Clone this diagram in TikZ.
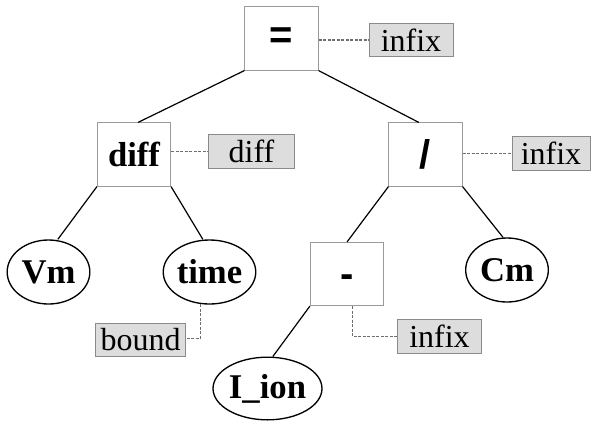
\documentclass[tikz,border=0pt]{standalone}
\usepackage{fontspec}
\setmainfont{Liberation Serif}
\setsansfont{Liberation Sans}
\usetikzlibrary{shapes.geometric}
\definecolor{boxline}{HTML}{9A9A9A}
\definecolor{tagfill}{HTML}{DDDDDD}
\definecolor{tagline}{HTML}{8A8A8A}
\definecolor{leader}{HTML}{6E6E6E}
\tikzset{
  opbox/.style={draw=boxline, line width=0.6pt, minimum width=55pt, minimum height=47.5pt, inner sep=0pt},
  opsym/.style={opbox, font=\sffamily\bfseries\fontsize{30}{30}\selectfont},
  opword/.style={opbox, font=\bfseries\fontsize{26}{26}\selectfont},
  leaf/.style={draw=black, ellipse, line width=1pt, minimum width=62pt, minimum height=48pt, inner sep=0pt, font=\bfseries\fontsize{26}{26}\selectfont},
  tag/.style={draw=tagline, fill=tagfill, line width=0.6pt, minimum height=25pt, inner sep=0pt, font=\fontsize{24}{24}\selectfont},
  edge/.style={draw=black, line width=0.9pt},
  lead/.style={draw=leader, line width=0.85pt, dash pattern=on 2.2pt off 1.2pt}
}
\begin{document}
\begin{tikzpicture}[x=0.75pt,y=-0.75pt]
\useasboundingbox (0,0) rectangle (591,422);

% operator boxes
\node[opsym]  (eq)    at (281.5,38.5) {=};
\node[opword] (diff)  at (134,154.5)  {diff};
\node[opsym]  (div)   at (425.5,154.5) {/};
\node[opsym]  (minus) at (347,274)    {\raisebox{-10pt}[0pt][0pt]{-}};

% leaves
\node[leaf] (vm)   at (48.5,272)  {Vm};
\node[leaf] (time) at (209.5,272) {time};
\node[leaf] (cm)   at (507,270)   {Cm};
\node[leaf, minimum width=74pt, minimum height=47pt] (iion) at (267.5,388.5) {I\_ion};

% attribute tags
\node[tag, minimum width=63pt]   (teq)    at (411,40)      {infix};
\node[tag, minimum width=64pt]   (tdiff)  at (251.5,151.5) {diff};
\node[tag, minimum width=58.5pt] (tdiv)   at (551,153.5)   {infix};
\node[tag, minimum width=67pt]   (tbound) at (140.5,340)   {bound};
\node[tag, minimum width=63.5pt] (tminus) at (439.5,336.5) {infix};

% tree edges
\draw[edge] (eq.south west) -- ([xshift=3pt]diff.north);
\draw[edge] (eq.south east) -- ([xshift=-5pt]div.north);
\draw[edge] (diff.south west) -- ([xshift=7pt]vm.north);
\draw[edge] (diff.south east) -- ([xshift=-5pt]time.north);
\draw[edge] (div.south west) -- (minus.north);
\draw[edge] (div.south east) -- ([xshift=-3pt]cm.north);
\draw[edge] (minus.south west) -- ([xshift=4pt]iion.north);

% leader lines to the tags
\draw[lead] (teq.west -| eq.east) -- (teq.west);
\draw[lead] (tdiff.west -| diff.east) -- (tdiff.west);
\draw[lead] (tdiv.west -| div.east) -- (tdiv.west);
\draw[lead] (time.254) |- ([yshift=1pt]tbound.east);
\draw[lead] ([xshift=4pt]minus.south) |- (tminus.west);
\end{tikzpicture}
\end{document}
